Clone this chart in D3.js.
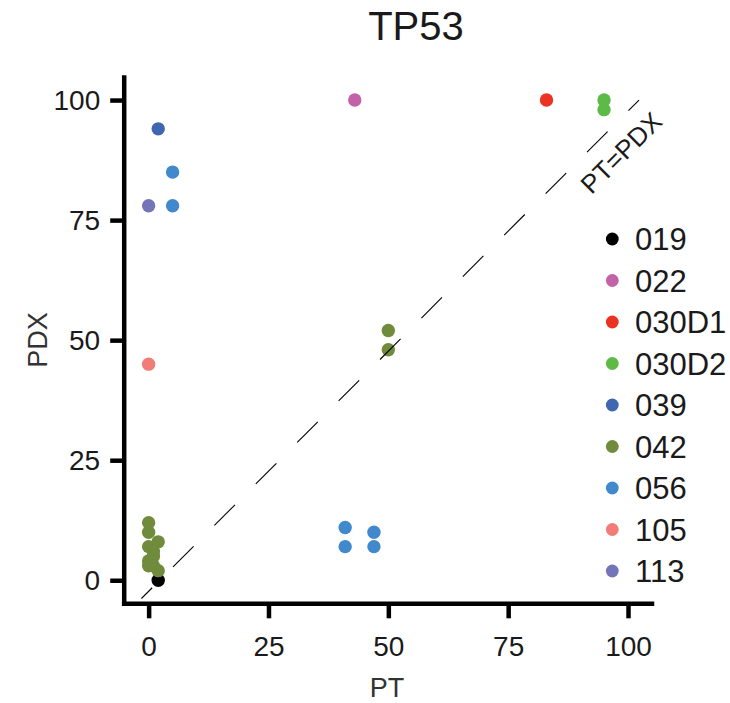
<!DOCTYPE html>
<html>
<head>
<meta charset="utf-8">
<script src="https://cdn.jsdelivr.net/npm/d3@7"></script>
<style>
  html, body { margin: 0; padding: 0; background: #ffffff; }
  svg { display: block; font-family: "Liberation Sans", Arial, Helvetica, sans-serif; }
</style>
</head>
<body>
<svg id="chart" width="730" height="703"></svg>
<script>
// Variant allele frequencies of TP53 mutations: primary tumour (PT) vs. xenograft (PDX)
const samples = ["019", "022", "030D1", "030D2", "039", "042", "056", "105", "113"];
const sampleColors = ["#000000", "#c462a9", "#ec3323", "#5dba47", "#3e66b1", "#6f8b3b", "#4189cc", "#f27c78", "#7474b8"];

const pointSample = ["019", "022", "030D1", "030D2", "030D2", "039",
  "042", "042", "042", "042", "042", "042", "042", "042", "042", "042", "042", "042",
  "056", "056", "056", "056", "056", "056", "105", "113"];
const pointPT  = [2, 43, 83, 95, 95, 2,
  0, 0, 2, 0, 1, 1, 0, 0, 2, 1, 50, 50,
  5, 5, 41, 41, 47, 47, 0, 0];
const pointPDX = [0, 100, 100, 100, 98, 94,
  12, 10, 8, 7, 6, 5, 4, 3, 2, 3, 52, 48,
  85, 78, 11, 7, 10, 7, 45, 78];

const xTicks = [0, 25, 50, 75, 100];
const yTicks = [0, 25, 50, 75, 100];

// identity reference line end points (PT, PDX)
const refLinePT  = [-1.5, 102.3];
const refLinePDX = [-3.8, 100];

const svg = d3.select("#chart");
const x = d3.scaleLinear().domain([-5.2, 104.9]).range([123.7, 651.5]);
const y = d3.scaleLinear().domain([-4.8, 104.8]).range([603.3, 77]);
const color = d3.scaleOrdinal().domain(samples).range(sampleColors);

// title
svg.append("text")
  .attr("x", 416).attr("y", 40)
  .attr("text-anchor", "middle")
  .attr("font-size", 40)
  .attr("fill", "#1a1a1a")
  .text("TP53");

// axes
const xAxis = svg.append("g")
  .attr("transform", "translate(0,603.3)")
  .call(d3.axisBottom(x).tickValues(xTicks).tickSize(15).tickSizeOuter(0).tickPadding(18));
const yAxis = svg.append("g")
  .attr("transform", "translate(123.7,0)")
  .call(d3.axisLeft(y).tickValues(yTicks).tickSize(13.5).tickSizeOuter(0).tickPadding(10));

[xAxis, yAxis].forEach(g => {
  g.select(".domain").attr("stroke", "#000").attr("stroke-width", 4.5).attr("stroke-linecap", "square");
  g.selectAll(".tick line").attr("stroke", "#000").attr("stroke-width", 4.5);
  g.selectAll(".tick text").attr("font-size", 28).attr("fill", "#1a1a1a")
    .attr("font-family", "'Liberation Sans', Arial, sans-serif");
});

// axis titles
svg.append("text")
  .attr("x", 387).attr("y", 697)
  .attr("text-anchor", "middle")
  .attr("font-size", 27)
  .attr("fill", "#333")
  .text("PT");
svg.append("text")
  .attr("transform", "translate(47,340) rotate(-90)")
  .attr("text-anchor", "middle")
  .attr("font-size", 27)
  .attr("fill", "#333")
  .text("PDX");

// points
svg.append("g").selectAll("circle")
  .data(d3.range(pointPT.length))
  .join("circle")
  .attr("cx", i => x(pointPT[i]))
  .attr("cy", i => y(pointPDX[i]))
  .attr("r", 6.7)
  .attr("fill", i => color(pointSample[i]));

// dashed identity line, drawn over the points
svg.append("line")
  .attr("x1", x(refLinePT[0])).attr("y1", y(refLinePDX[0]))
  .attr("x2", x(refLinePT[1])).attr("y2", y(refLinePDX[1]))
  .attr("stroke", "#000")
  .attr("stroke-width", 1.1)
  .attr("stroke-dasharray", "29.1 29.5")
  .attr("stroke-dashoffset", 13.9);

svg.append("text")
  .attr("transform", "translate(621,152.5) rotate(-45)")
  .attr("text-anchor", "middle")
  .attr("dy", "0.36em")
  .attr("font-size", 26)
  .attr("fill", "#1a1a1a")
  .text("PT=PDX");

// legend
const legend = svg.append("g").selectAll("g")
  .data(samples)
  .join("g")
  .attr("transform", (d, i) => `translate(612.3,${239 + i * 41.5})`);
legend.append("circle").attr("r", 6.4).attr("fill", d => color(d));
legend.append("text")
  .attr("x", 22.7).attr("dy", "0.36em")
  .attr("font-size", 31)
  .attr("fill", "#1a1a1a")
  .text(d => d);
</script>
</body>
</html>
